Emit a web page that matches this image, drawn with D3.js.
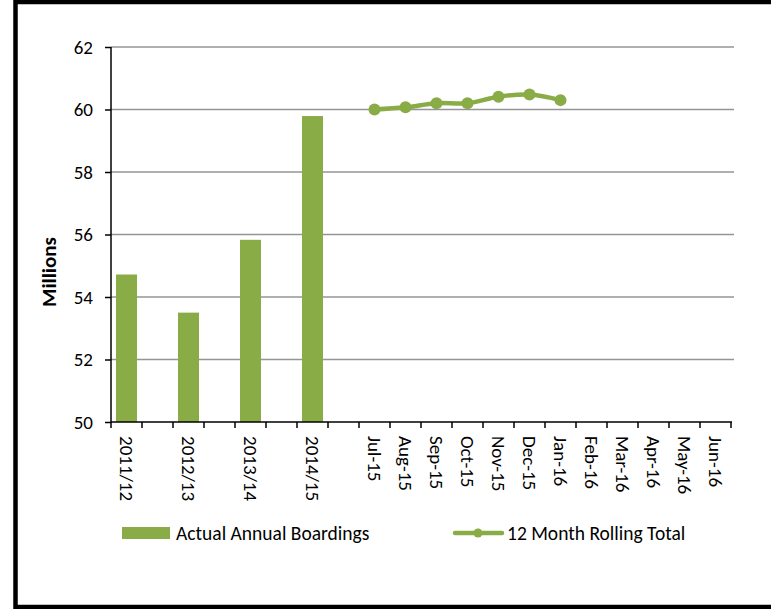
<!DOCTYPE html>
<html><head><meta charset="utf-8">
<script src="https://cdn.jsdelivr.net/npm/d3@7"></script>
<style>body{margin:0;background:#fff}svg{display:block}</style>
</head><body>
<svg id="c" width="771" height="609"></svg>
<script>
const categories = ["2011/12","","2012/13","","2013/14","","2014/15","","Jul-15","Aug-15","Sep-15","Oct-15","Nov-15","Dec-15","Jan-16","Feb-16","Mar-16","Apr-16","May-16","Jun-16"];
const barCategories = ["2011/12","2012/13","2013/14","2014/15"];
const barValues = [54.72, 53.5, 55.83, 59.79];
const lineCategories = ["Jul-15","Aug-15","Sep-15","Oct-15","Nov-15","Dec-15","Jan-16"];
const lineValues = [60.0, 60.07, 60.2, 60.2, 60.41, 60.48, 60.3];
const yTicks = [50,52,54,56,58,60,62];

const font = "Carlito, Lato, 'Liberation Sans', sans-serif";
const green = "#8aac46";
const svg = d3.select("#c");

// border
svg.append("rect").attr("x",15.5).attr("y",2).attr("width",800).attr("height",605)
  .attr("fill","none").attr("stroke","#000").attr("stroke-width",4.5);

const pL = 111, pR = 731, pT = 47, pB = 422;
const x = d3.scaleBand().domain(categories.map((d,i)=>i)).range([pL,pR]).paddingInner(0).paddingOuter(0);
const y = d3.scaleLinear().domain([50,62]).range([pB,pT]);

// gridlines
svg.append("g").selectAll("line").data(yTicks.filter(d=>d>50)).join("line")
  .attr("x1",pL).attr("x2",pR+3).attr("y1",d=>y(d)).attr("y2",d=>y(d))
  .attr("stroke","#959595").attr("stroke-width",1.5);

// bars
const bw = 21;
svg.append("g").selectAll("rect").data(barValues).join("rect")
  .attr("x",(d,i)=>x(categories.indexOf(barCategories[i])) + x.bandwidth()/2 - bw/2)
  .attr("width",bw)
  .attr("y",d=>y(d)).attr("height",d=>pB-y(d))
  .attr("fill",green);

// y axis
const yAxis = svg.append("g").attr("transform",`translate(${pL},0)`)
  .call(d3.axisLeft(y).tickValues(yTicks).tickSize(6).tickPadding(12).tickFormat(d3.format("d")));
yAxis.select(".domain").attr("stroke","#000").attr("stroke-width",1.5).attr("d",`M0,${pT}V${pB}`);
yAxis.selectAll(".tick line").attr("stroke","#000").attr("stroke-width",1.5);
yAxis.selectAll("text").attr("font-family",font).attr("font-size",19).attr("fill","#000");

// x axis
const xg = svg.append("g").attr("transform",`translate(0,${pB})`);
xg.append("line").attr("x1",pL).attr("x2",pR+1).attr("y1",0).attr("y2",0).attr("stroke","#000").attr("stroke-width",1.5);
const tickPos = d3.range(categories.length+1).map(i=> i<categories.length ? x(i) : pR);
xg.selectAll("line.t").data(tickPos).join("line").attr("class","t")
  .attr("x1",d=>d).attr("x2",d=>d).attr("y1",0).attr("y2",6).attr("stroke","#000").attr("stroke-width",1.5);
xg.selectAll("text").data(categories.map((c,i)=>({c,i})).filter(d=>d.c)).join("text")
  .attr("transform",d=>`translate(${x(d.i)+x.bandwidth()/2},14) rotate(90)`)
  .attr("dy","0.35em").attr("text-anchor","start")
  .attr("font-family",font).attr("font-size",19).attr("fill","#000")
  .text(d=>d.c);

// line
const lineGen = d3.line()
  .x((d,i)=>x(categories.indexOf(lineCategories[i]))+x.bandwidth()/2)
  .y(d=>y(d)).curve(d3.curveCatmullRom.alpha(0.5));
svg.append("path").datum(lineValues).attr("d",lineGen)
  .attr("fill","none").attr("stroke",green).attr("stroke-width",4.5).attr("stroke-linejoin","round");
svg.append("g").selectAll("circle").data(lineValues).join("circle")
  .attr("cx",(d,i)=>x(categories.indexOf(lineCategories[i]))+x.bandwidth()/2)
  .attr("cy",d=>y(d)).attr("r",6).attr("fill",green);

// y title
svg.append("text").attr("transform","translate(56,272) rotate(-90)")
  .attr("text-anchor","middle").attr("font-family",font).attr("font-size",21).attr("font-weight","bold")
  .text("Millions");

// legend
svg.append("rect").attr("x",122).attr("y",527).attr("width",48).attr("height",12).attr("fill",green);
svg.append("text").attr("x",176).attr("y",533).attr("dy","0.35em").attr("font-family",font).attr("font-size",19.5).text("Actual Annual Boardings");
svg.append("line").attr("x1",455).attr("x2",502).attr("y1",533).attr("y2",533).attr("stroke",green).attr("stroke-width",4.5).attr("stroke-linecap","round");
svg.append("circle").attr("cx",478).attr("cy",533).attr("r",4.5).attr("fill",green);
svg.append("text").attr("x",507).attr("y",533).attr("dy","0.35em").attr("font-family",font).attr("font-size",19.5).text("12 Month Rolling Total");
</script>
</body></html>
